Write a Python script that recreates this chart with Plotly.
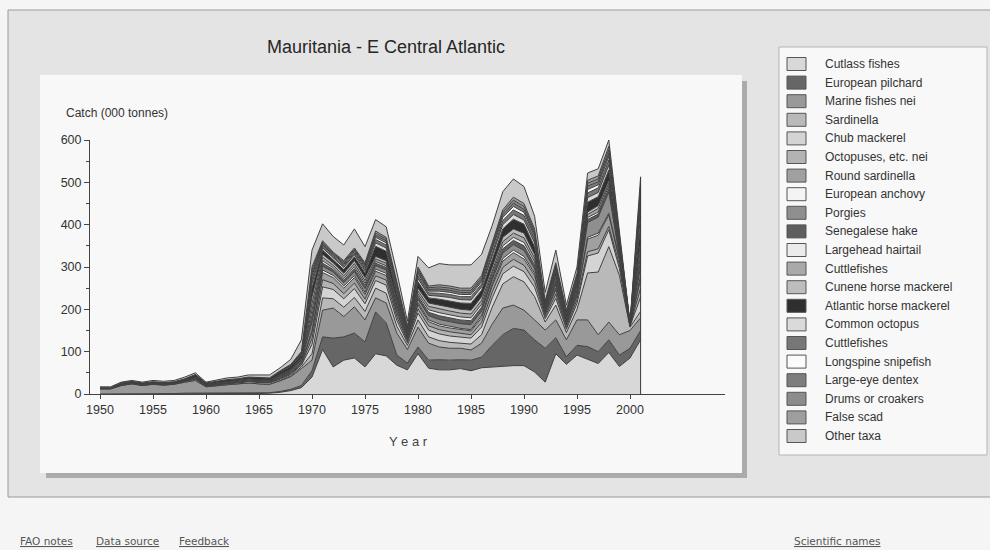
import plotly.graph_objects as go

years = list(range(1950, 2002))

species = [
    "Cutlass fishes", "European pilchard", "Marine fishes nei", "Sardinella",
    "Chub mackerel", "Octopuses, etc. nei", "Round sardinella", "European anchovy",
    "Porgies", "Senegalese hake", "Largehead hairtail", "Cuttlefishes",
    "Cunene horse mackerel", "Atlantic horse mackerel", "Common octopus",
    "Cuttlefishes", "Longspine snipefish", "Large-eye dentex",
    "Drums or croakers", "False scad", "Other taxa",
]

fills = [
    "#d8d8d8", "#666666", "#999999", "#b9b9b9", "#d4d4d4", "#b3b3b3", "#a0a0a0",
    "#f4f4f4", "#8f8f8f", "#5e5e5e", "#ebebeb", "#a9a9a9", "#bdbdbd", "#2f2f2f",
    "#dadada", "#777777", "#fbfbfb", "#7d7d7d", "#8c8c8c", "#9e9e9e", "#c9c9c9",
]

# catch values (000 tonnes), 1950-2001, stacking order bottom -> top
cutlass = [0, 0, 0, 0, 0, 0, 0, 1, 1, 1, 1, 1, 1, 1, 1, 1, 2, 4, 8, 15,
           40, 105, 64, 80, 85, 64, 95, 90, 68, 57, 95, 61, 57, 57, 60, 55, 62, 64, 66, 67,
           67, 52, 28, 95, 70, 92, 82, 72, 98, 65, 85, 128]
pilchard = [0, 0, 0, 0, 0, 0, 0, 0, 1, 1, 1, 1, 1, 1, 1, 1, 1, 2, 3, 5,
            15, 30, 68, 55, 59, 59, 99, 78, 24, 16, 16, 19, 24, 23, 21, 25, 25, 51, 74, 88,
            84, 76, 80, 38, 18, 23, 30, 28, 30, 27, 23, 22]
marine_nei = [12, 12, 20, 24, 20, 23, 21, 22, 26, 30, 15, 18, 20, 22, 24, 22, 20, 25, 30, 40,
              25, 63, 71, 48, 62, 52, 33, 47, 52, 32, 47, 40, 30, 28, 27, 24, 33, 50, 63, 55,
              47, 47, 43, 42, 40, 60, 63, 40, 42, 48, 42, 30]
sardinella = [0, 0, 0, 0, 0, 0, 0, 0, 0, 0, 0, 0, 0, 0, 0, 0, 0, 1, 2, 4,
              15, 29, 22, 22, 22, 20, 23, 23, 16, 10, 17, 15, 15, 14, 12, 14, 20, 40, 57, 67,
              67, 55, 19, 35, 17, 25, 111, 148, 178, 140, 8, 15]
chub = [1, 1, 1, 1, 1, 1, 1, 1, 2, 3, 2, 2, 2, 2, 3, 3, 3, 3, 3, 4,
        22, 26, 22, 20, 21, 18, 18, 19, 14, 6, 16, 16, 16, 15, 14, 14, 18, 22, 24, 25,
        24, 22, 8, 16, 8, 14, 40, 45, 40, 16, 2, 34]
octopuses = [0, 0, 0, 0, 0, 0, 0, 0, 0, 0, 0, 0, 1, 1, 1, 1, 1, 1, 2, 2,
             14, 17, 14, 12, 13, 11, 11, 12, 9, 4, 10, 10, 10, 10, 9, 8, 11, 14, 15, 16,
             15, 14, 5, 10, 5, 9, 10, 10, 8, 10, 1, 21]
round_sard = [0, 0, 1, 1, 1, 1, 1, 1, 1, 1, 1, 1, 1, 1, 1, 1, 1, 2, 2, 3,
              14, 17, 14, 13, 13, 11, 11, 11, 9, 4, 10, 10, 9, 9, 9, 9, 11, 14, 15, 16,
              15, 14, 5, 10, 5, 9, 30, 32, 27, 10, 1, 21]
anchovy = [0, 0, 0, 0, 0, 0, 0, 0, 0, 0, 0, 0, 0, 0, 0, 0, 0, 1, 1, 1,
           5, 6, 5, 5, 5, 5, 5, 5, 3, 1, 4, 4, 4, 4, 3, 3, 5, 5, 6, 6,
           6, 5, 2, 4, 2, 3, 4, 5, 4, 4, 0, 9]
porgies = [1, 1, 1, 1, 1, 1, 1, 1, 1, 2, 1, 1, 2, 2, 2, 2, 2, 2, 2, 3,
           20, 9, 8, 8, 9, 9, 8, 8, 8, 4, 9, 10, 11, 11, 11, 12, 11, 10, 13, 13,
           14, 11, 4, 8, 4, 6, 35, 38, 50, 6, 1, 20]
hake = [0, 0, 1, 1, 1, 1, 1, 1, 1, 2, 1, 1, 1, 1, 2, 2, 2, 2, 3, 3,
        16, 7, 6, 6, 7, 7, 6, 6, 6, 3, 7, 8, 9, 9, 9, 9, 9, 8, 10, 10,
        11, 9, 3, 6, 3, 5, 7, 7, 8, 5, 0, 16]
hairtail = [0, 0, 0, 0, 0, 0, 0, 0, 0, 0, 0, 0, 0, 0, 0, 0, 0, 1, 1, 1,
            12, 6, 4, 4, 5, 5, 4, 4, 4, 2, 5, 6, 7, 7, 7, 7, 7, 6, 7, 7,
            8, 7, 2, 4, 2, 4, 5, 5, 6, 4, 0, 12]
cuttle_a = [0, 0, 0, 0, 0, 0, 0, 0, 0, 0, 0, 0, 0, 0, 0, 0, 0, 1, 1, 2,
            16, 8, 6, 6, 7, 7, 6, 6, 6, 3, 7, 8, 9, 9, 9, 9, 9, 8, 10, 10,
            11, 9, 3, 6, 3, 5, 7, 8, 7, 5, 1, 16]
cunene = [0, 0, 0, 0, 0, 0, 0, 0, 0, 1, 1, 1, 1, 1, 1, 1, 1, 1, 1, 2,
          16, 7, 6, 6, 7, 7, 6, 6, 6, 3, 7, 8, 9, 9, 9, 9, 9, 8, 10, 10,
          11, 9, 3, 6, 3, 5, 6, 7, 7, 5, 0, 16]
atl_horse = [1, 1, 2, 2, 2, 2, 2, 2, 3, 5, 3, 4, 4, 4, 4, 5, 5, 6, 6, 8,
             21, 10, 7, 9, 9, 11, 24, 22, 12, 5, 15, 12, 14, 15, 15, 16, 15, 17, 20, 23,
             21, 18, 5, 9, 6, 8, 23, 21, 24, 9, 1, 40]
com_octopus = [0, 0, 0, 0, 0, 0, 0, 0, 0, 0, 0, 0, 0, 0, 0, 0, 0, 1, 1, 2,
               10, 5, 4, 5, 5, 5, 8, 8, 6, 2, 8, 6, 7, 8, 8, 8, 8, 8, 10, 11,
               10, 9, 2, 5, 3, 4, 11, 10, 12, 5, 0, 20]
cuttle_b = [0, 0, 0, 0, 0, 0, 0, 0, 0, 0, 0, 0, 0, 0, 0, 0, 0, 1, 1, 2,
            11, 5, 4, 4, 4, 5, 8, 7, 6, 2, 7, 6, 7, 7, 7, 8, 7, 8, 10, 11,
            11, 9, 2, 4, 3, 4, 11, 11, 12, 4, 0, 20]
snipefish = [0, 0, 0, 0, 0, 0, 0, 0, 0, 0, 0, 0, 0, 0, 0, 0, 0, 0, 0, 0,
             7, 3, 3, 3, 3, 4, 5, 5, 4, 2, 5, 4, 5, 5, 5, 5, 5, 6, 7, 8,
             7, 6, 2, 3, 2, 3, 8, 7, 8, 3, 0, 14]
dentex = [0, 0, 0, 0, 0, 0, 0, 0, 0, 0, 0, 0, 0, 0, 0, 0, 0, 0, 1, 1,
          7, 3, 3, 3, 3, 4, 5, 5, 4, 2, 5, 4, 5, 5, 5, 5, 5, 6, 6, 8,
          7, 6, 2, 3, 2, 2, 8, 7, 8, 3, 1, 14]
drums = [0, 0, 0, 0, 0, 0, 0, 0, 0, 0, 0, 0, 0, 0, 0, 0, 0, 0, 1, 1,
         7, 3, 2, 3, 3, 3, 5, 4, 4, 1, 5, 4, 5, 5, 5, 5, 5, 5, 6, 7,
         7, 6, 1, 3, 1, 2, 7, 7, 8, 3, 0, 14]
false_scad = [0, 0, 0, 0, 0, 0, 0, 0, 0, 0, 0, 0, 0, 0, 0, 0, 0, 1, 1, 1,
              7, 3, 2, 3, 3, 3, 5, 4, 4, 1, 5, 4, 5, 5, 5, 5, 5, 5, 6, 7,
              7, 6, 1, 3, 1, 2, 7, 7, 8, 3, 0, 13]
other_taxa = [2, 2, 2, 2, 2, 3, 3, 3, 4, 4, 2, 3, 4, 4, 5, 6, 7, 7, 12, 28,
              40, 40, 37, 37, 45, 38, 27, 25, 23, 12, 25, 43, 50, 50, 55, 55, 50, 43, 43, 43,
              40, 30, 20, 30, 12, 15, 17, 17, 15, 15, 2, 18]

series = [cutlass, pilchard, marine_nei, sardinella, chub, octopuses, round_sard,
          anchovy, porgies, hake, hairtail, cuttle_a, cunene, atl_horse, com_octopus,
          cuttle_b, snipefish, dentex, drums, false_scad, other_taxa]

x_ticks = [1950, 1955, 1960, 1965, 1970, 1975, 1980, 1985, 1990, 1995, 2000]
y_ticks = [0, 100, 200, 300, 400, 500, 600]

FONT = "Liberation Sans, Arial, sans-serif"

# plot-area geometry (pixels)
L, T, W, H = 90, 140, 635, 254
FIG_W, FIG_H = 990, 550


def xp(px):
    return (px - L) / W


def yp(py):
    return (T + H - py) / H


fig = go.Figure()
for name, vals, col in zip(species, series, fills):
    fig.add_trace(go.Scatter(
        x=years, y=vals, name=name, mode="lines", stackgroup="catch",
        fillcolor=col, line=dict(color="#404040", width=1),
        hoverinfo="x+y+name",
    ))

totals = [sum(v) for v in zip(*series)]
fig.add_trace(go.Scatter(
    x=[years[-1], years[-1]], y=[0, totals[-1]], mode="lines",
    line=dict(color="#3a3a3a", width=1), showlegend=False, hoverinfo="skip",
))

shapes = [
    # outer grey panel
    dict(type="rect", xref="paper", yref="paper", x0=xp(8), x1=xp(1000),
         y0=yp(10), y1=yp(497), fillcolor="#e4e4e4",
         line=dict(color="#9a9a9a", width=1), layer="below"),
    # inner chart box shadow
    dict(type="rect", xref="paper", yref="paper", x0=xp(46), x1=xp(747),
         y0=yp(81), y1=yp(478), fillcolor="#ababab", line=dict(width=0), layer="below"),
    # inner chart box
    dict(type="rect", xref="paper", yref="paper", x0=xp(40), x1=xp(742),
         y0=yp(75), y1=yp(473), fillcolor="#f8f8f8", line=dict(width=0), layer="below"),
    # legend box
    dict(type="rect", xref="paper", yref="paper", x0=xp(779), x1=xp(987),
         y0=yp(47), y1=yp(455), fillcolor="#f8f8f8",
         line=dict(color="#b5b5b5", width=1), layer="below"),
]

annotations = [
    dict(text="Mauritania - E Central Atlantic", x=xp(386), y=yp(47),
         xref="paper", yref="paper", showarrow=False, xanchor="center", yanchor="middle",
         font=dict(family=FONT, size=18, color="#262626")),
    dict(text="Catch (000 tonnes)", x=xp(64), y=yp(113),
         xref="paper", yref="paper", showarrow=False, xanchor="left", yanchor="middle",
         font=dict(family=FONT, size=12, color="#333333")),
    dict(text="Y e a r", x=xp(409), y=yp(441),
         xref="paper", yref="paper", showarrow=False, xanchor="center", yanchor="middle",
         font=dict(family=FONT, size=13, color="#444444")),
]

# hand-drawn legend
row0, step = 64, 18.6
for i, (name, col) in enumerate(zip(species, fills)):
    cy = row0 + i * step
    shapes.append(dict(type="rect", xref="paper", yref="paper",
                       x0=xp(787), x1=xp(806), y0=yp(cy - 6.5), y1=yp(cy + 6.5),
                       fillcolor=col, line=dict(color="#555555", width=1), layer="above"))
    annotations.append(dict(text=name, x=xp(823), y=yp(cy), xref="paper", yref="paper",
                            showarrow=False, xanchor="left", yanchor="middle",
                            font=dict(family=FONT, size=12, color="#333333")))

footer = [("FAO notes", 18), ("Data source", 94), ("Feedback", 177), ("Scientific names", 792)]
for txt, left in footer:
    annotations.append(dict(text="<u>" + txt + "</u>", x=xp(left), y=yp(541),
                            xref="paper", yref="paper", showarrow=False,
                            xanchor="left", yanchor="middle",
                            font=dict(family="DejaVu Sans, sans-serif", size=10.5,
                                      color="#555555")))

fig.update_layout(
    width=FIG_W, height=FIG_H, autosize=False,
    margin=dict(l=L, r=FIG_W - L - W, t=T, b=FIG_H - T - H, pad=0),
    paper_bgcolor="#f5f5f5", plot_bgcolor="rgba(0,0,0,0)",
    showlegend=False,
    shapes=shapes, annotations=annotations,
    font=dict(family=FONT, size=12, color="#333333"),
)

fig.update_xaxes(
    range=[1950 - 10 / 10.6, 1950 + 625 / 10.6],
    tickvals=x_ticks, ticktext=[str(v) for v in x_ticks],
    ticks="outside", ticklen=4, tickcolor="#444444",
    showline=True, linecolor="#444444", linewidth=1,
    showgrid=False, zeroline=False,
    tickfont=dict(family=FONT, size=12.5, color="#333333"),
)
fig.update_yaxes(
    range=[0, 600], tickvals=y_ticks, ticktext=[str(v) for v in y_ticks],
    ticks="outside", ticklen=5, tickcolor="#444444",
    minor=dict(dtick=50, ticks="outside", ticklen=3, tickcolor="#444444"),
    showline=True, linecolor="#444444", linewidth=1,
    showgrid=False, zeroline=False,
    tickfont=dict(family=FONT, size=12.5, color="#333333"),
)

fig.write_html("out.html", config={"displayModeBar": False},
               post_script="document.body.style.margin='0';")
